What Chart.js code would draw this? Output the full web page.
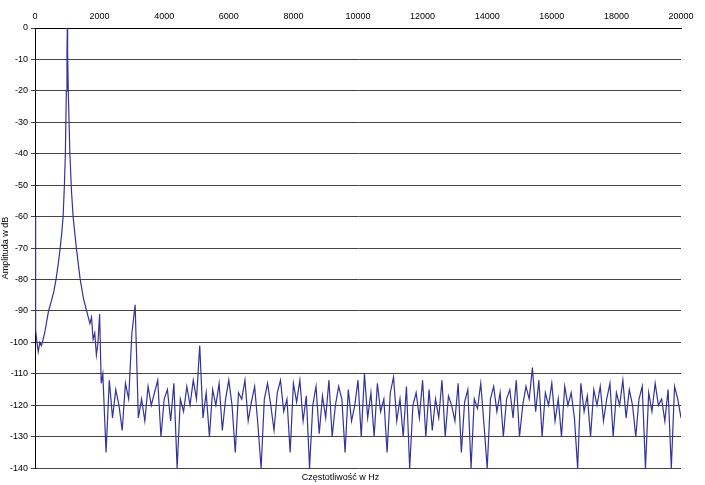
<!DOCTYPE html>
<html lang="pl">
<head>
    <meta charset="UTF-8">
    <title>Widmo amplitudowe</title>
    <script src="https://cdn.jsdelivr.net/npm/chart.js"></script>
    <style>
        body { margin: 0; background: #fff; }
        #wrap { width: 705px; height: 485px; }
    </style>
</head>
<body>
<div id="wrap"><canvas id="widmo" width="705" height="485"></canvas></div>
<script>
    // okolice piku 1 kHz
    const freqPeak = [0, 20, 60, 100, 150, 200, 250, 300, 350, 420, 500, 580, 650, 720, 780, 830, 870, 910, 940, 970, 990, 1000, 1010, 1030, 1080, 1130, 1180, 1230, 1280, 1340, 1400, 1500, 1600, 1650, 1700, 1750, 1800, 1850, 1900, 1950, 2000, 2050];
    const ampPeak = [-60, -96, -100, -103, -100, -101, -99, -97, -94, -90, -87, -84, -80, -75, -70, -65, -60, -50, -40, -20, -8, 0, -8, -20, -40, -52, -60, -65, -70, -75, -80, -86, -90, -92, -94, -92, -99, -97, -104, -100, -91, -113];

    // szum od 2100 Hz co 100 Hz
    const noiseStart = 2100;
    const noiseStep = 100;
    const ampNoise = [
        -110, -135, -112, -124, -115, -120, -128, -113, -118, -97, -88, -124, -118, -125, -114, -120, -116, -112, -130, -118,
        -115, -125, -113, -140, -118, -122, -114, -120, -112, -118, -101, -124, -116, -130, -115, -120, -113, -128, -118, -112,
        -120, -135, -116, -118, -112, -125, -119, -114, -126, -140, -118, -113, -120, -128, -116, -112, -122, -118, -135, -113,
        -119, -112, -125, -117, -140, -120, -114, -129, -117, -124, -112, -130, -120, -114, -118, -135, -115, -125, -120, -112,
        -130, -110, -124, -116, -130, -113, -122, -118, -135, -116, -111, -125, -118, -130, -114, -140, -120, -116, -124, -112,
        -130, -115, -128, -118, -124, -112, -130, -117, -120, -125, -113, -135, -119, -115, -140, -118, -121, -113, -126, -140,
        -118, -114, -122, -116, -130, -118, -115, -124, -112, -130, -120, -114, -118, -108, -122, -112, -130, -116, -120, -113,
        -125, -118, -130, -114, -120, -116, -124, -140, -113, -122, -117, -130, -115, -120, -114, -125, -118, -113, -130, -116,
        -120, -112, -124, -115, -120, -130, -118, -114, -140, -116, -122, -113, -120, -118, -125, -115, -140, -114, -118, -124
    ];

    const pts = freqPeak.map((f, i) => ({ x: f, y: ampPeak[i] }));
    ampNoise.forEach((a, i) => pts.push({ x: noiseStart + i * noiseStep, y: a }));

    const font = { family: 'Arial, "Liberation Sans"', size: 9, weight: 'normal' };

    new Chart(document.getElementById('widmo').getContext('2d'), {
        type: 'line',
        data: {
            datasets: [{
                data: pts,
                borderColor: '#333399',
                borderWidth: 1.2,
                pointRadius: 0,
                tension: 0,
                fill: false
            }]
        },
        options: {
            responsive: false,
            animation: false,
            layout: { padding: { right: 24, top: 0, bottom: 0 } },
            plugins: {
                legend: { display: false },
                tooltip: { enabled: false },
                title: {
                    display: true,
                    position: 'bottom',
                    text: 'Częstotliwość w Hz',
                    color: '#000',
                    font: font,
                    padding: { top: 4, bottom: 2 }
                }
            },
            scales: {
                x: {
                    type: 'linear',
                    position: 'top',
                    min: 0,
                    max: 20000,
                    ticks: { stepSize: 2000, color: '#000', font: font, maxRotation: 0, padding: 2, callback: (v) => String(v) },
                    grid: { display: false, drawTicks: true, tickLength: 4, color: '#000' },
                    border: { color: '#000' },
                    afterFit: (s) => { s.height = 28; }
                },
                y: {
                    min: -140,
                    max: 0,
                    ticks: { stepSize: 10, color: '#000', font: font, padding: 3 },
                    grid: { color: '#444', tickLength: 4 },
                    border: { color: '#000' },
                    title: { display: true, text: 'Amplituda w dB', color: '#000', font: font, padding: 0 },
                    afterFit: (s) => { s.width = 35; }
                }
            }
        }
    });
</script>
</body>
</html>
